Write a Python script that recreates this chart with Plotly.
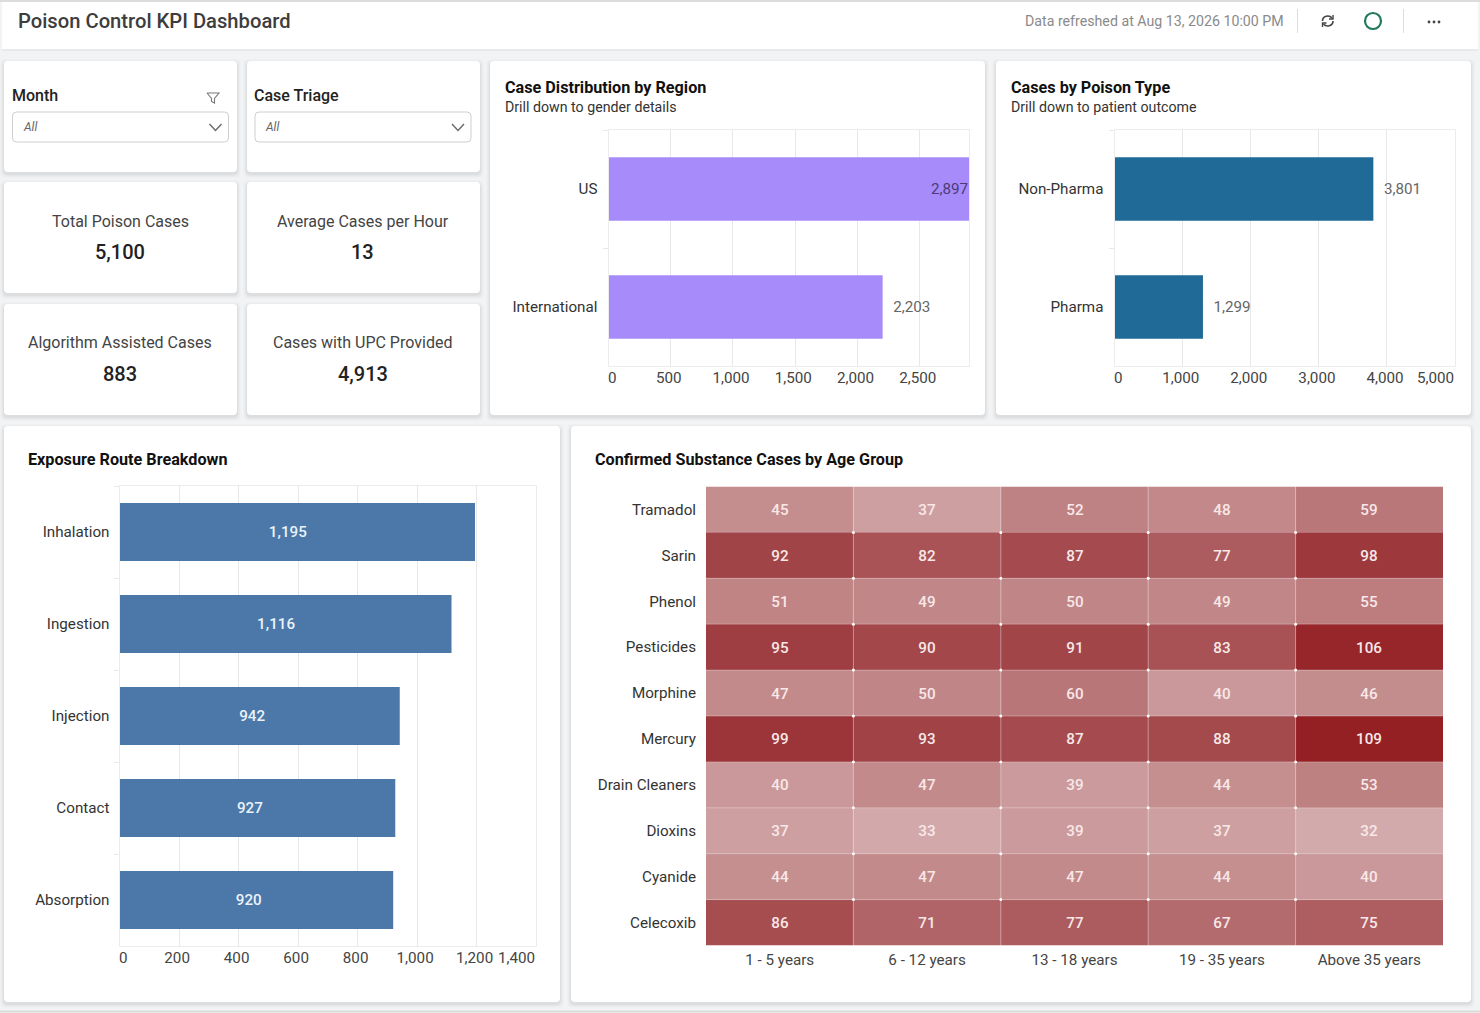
import plotly.graph_objects as go

W = 1480
H = 1013
FONT = "Roboto"

# chart data
region_names = ["US", "International"]
region_cases = [2897, 2203]
region_ticks = [0, 500, 1000, 1500, 2000, 2500]

poison_names = ["Non-Pharma", "Pharma"]
poison_cases = [3801, 1299]
poison_ticks = [0, 1000, 2000, 3000, 4000, 5000]

route_names = ["Inhalation", "Ingestion", "Injection", "Contact", "Absorption"]
route_cases = [1195, 1116, 942, 927, 920]
route_ticks = [0, 200, 400, 600, 800, 1000, 1200, 1400]

age_groups = ["1 - 5 years", "6 - 12 years", "13 - 18 years", "19 - 35 years", "Above 35 years"]
substances = ["Tramadol", "Sarin", "Phenol", "Pesticides", "Morphine",
              "Mercury", "Drain Cleaners", "Dioxins", "Cyanide", "Celecoxib"]
tramadol = [45, 37, 52, 48, 59]
sarin = [92, 82, 87, 77, 98]
phenol = [51, 49, 50, 49, 55]
pesticides = [95, 90, 91, 83, 106]
morphine = [47, 50, 60, 40, 46]
mercury = [99, 93, 87, 88, 109]
drain_cleaners = [40, 47, 39, 44, 53]
dioxins = [37, 33, 39, 37, 32]
cyanide = [44, 47, 47, 44, 40]
celecoxib = [86, 71, 77, 67, 75]

kpi_labels = ["Total Poison Cases", "Average Cases per Hour", "Algorithm Assisted Cases", "Cases with UPC Provided"]
kpi_values = ["5,100", "13", "883", "4,913"]


def px(x):
    return x / W


def py(y):
    return 1 - y / H


def rounded(x0, y0, x1, y1, r):
    return (f"M {px(x0 + r)} {py(y0)} L {px(x1 - r)} {py(y0)} Q {px(x1)} {py(y0)} {px(x1)} {py(y0 + r)} "
            f"L {px(x1)} {py(y1 - r)} Q {px(x1)} {py(y1)} {px(x1 - r)} {py(y1)} "
            f"L {px(x0 + r)} {py(y1)} Q {px(x0)} {py(y1)} {px(x0)} {py(y1 - r)} "
            f"L {px(x0)} {py(y0 + r)} Q {px(x0)} {py(y0)} {px(x0 + r)} {py(y0)} Z")


def poly(points):
    return "M " + " L ".join(f"{px(x)} {py(y)}" for x, y in points)


shapes = []
annotations = []


def add_path(path, fill="rgba(0,0,0,0)", line="rgba(0,0,0,0)", width=1):
    shapes.append(dict(type="path", path=path, xref="paper", yref="paper", layer="below",
                       fillcolor=fill, line=dict(color=line, width=width)))


def add_card(x0, y0, x1, y1):
    # soft shadow, a few faint layers under the white card
    for grow, alpha in [(4, 0.012), (3, 0.016), (2, 0.022), (1, 0.03)]:
        add_path(rounded(x0 - grow, y0 - grow + 2, x1 + grow, y1 + grow + 2, 5), fill=f"rgba(0,0,0,{alpha})")
    add_path(rounded(x0, y0, x1, y1, 4), fill="#ffffff")


def add_text(x, y, text, size=15, color="#333333", anchor="left", weight=400, style="normal"):
    # annotations carry about a pixel of padding on their sides
    nudge = {"left": -1, "right": 2, "center": 0}[anchor]
    annotations.append(dict(x=px(x + nudge), y=py(y), xref="paper", yref="paper", text=text, showarrow=False,
                            xanchor=anchor, yanchor="middle", borderpad=0,
                            font=dict(family=FONT, size=size, color=color, weight=weight, style=style)))


def add_dropdown(x0, x1):
    add_path(rounded(x0, 112, x1, 142, 4), fill="#ffffff", line="#cfcfcf", width=1)
    add_path(poly([(x1 - 19, 124), (x1 - 13, 130.5), (x1 - 7, 124)]), line="#666666", width=1.3)
    add_text(x0 + 10, 127, "All", size=12, color="#666666", style="italic")


# page frame and header
add_path(f"M 0 0 L 1 0 L 1 1 L 0 1 Z", fill="#f2f3f4")
add_path(f"M {px(2)} {py(2)} L {px(1478)} {py(2)} L {px(1478)} {py(49)} L {px(2)} {py(49)} Z", fill="#ffffff")
add_path(poly([(0, 1), (W, 1)]), line="#dcdcdc", width=2)
add_path(poly([(0, 1011.5), (W, 1011.5)]), line="#dcdcdc", width=2)
add_path(poly([(2, 50), (1478, 50)]), line="#e6e6e6", width=1.5)

add_text(18, 21.5, "Poison Control KPI Dashboard", size=20.2, color="#3d3d3d", weight=500)
add_text(1283, 21.5, "Data refreshed at Aug 13, 2026 10:00 PM", size=14.2, color="#8a8a8a", anchor="right")
add_path(poly([(1297.5, 9), (1297.5, 33)]), line="#dddddd", width=1)
add_path(poly([(1403.5, 9), (1403.5, 33)]), line="#dddddd", width=1)

# refresh icon
add_path(f"M {px(1322.5)} {py(21)} C {px(1322.5)} {py(16)} {px(1329)} {py(14.5)} {px(1332)} {py(18)}", line="#444444", width=1.6)
add_path(f"M {px(1333)} {py(21)} C {px(1333)} {py(26)} {px(1326.5)} {py(27.5)} {px(1323.5)} {py(24)}", line="#444444", width=1.6)
add_path(poly([(1333, 15), (1333, 19), (1329, 19)]), line="#444444", width=1.4)
add_path(poly([(1322.5, 27), (1322.5, 23), (1326.5, 23)]), line="#444444", width=1.4)

# status ring
shapes.append(dict(type="circle", xref="paper", yref="paper", x0=px(1365), x1=px(1381), y0=py(29), y1=py(13),
                   layer="below", fillcolor="rgba(0,0,0,0)", line=dict(color="#1f7a5c", width=2.2)))

# more menu dots
for dot_x in [1429, 1434, 1439]:
    shapes.append(dict(type="circle", xref="paper", yref="paper", x0=px(dot_x - 1.4), x1=px(dot_x + 1.4),
                       y0=py(23.4), y1=py(20.6), layer="below", fillcolor="#444444", line=dict(width=0)))

# cards
add_card(4, 61, 237, 172)
add_card(247, 61, 480, 172)
add_card(4, 182, 237, 293)
add_card(247, 182, 480, 293)
add_card(4, 304, 237, 415)
add_card(247, 304, 480, 415)
add_card(490, 61, 985, 415)
add_card(996, 61, 1471, 415)
add_card(4, 426, 560, 1002)
add_card(571, 426, 1471, 1002)

# filters
add_text(12, 95.5, "Month", size=16, color="#222222", weight=500)
add_text(254, 95.5, "Case Triage", size=16, color="#222222", weight=500)
add_dropdown(12.5, 228.5)
add_dropdown(255, 471)
add_path(poly([(207, 93), (219, 93), (214.5, 98.5), (214.5, 103), (211.5, 101.5), (211.5, 98.5), (207, 93)]),
         line="#777777", width=1.1)

# kpi tiles
kpi_spots = [(120, 221), (362.5, 221), (120, 342.5), (362.5, 342.5)]
for (kx, ky), label, value in zip(kpi_spots, kpi_labels, kpi_values):
    add_text(kx, ky, label, size=16, color="#444444", anchor="center")
    add_text(kx, ky + 31, value, size=20, color="#222222", anchor="center", weight=500)

# chart titles
add_text(505, 87, "Case Distribution by Region", size=16.2, color="#111111", weight=700)
add_text(505, 107, "Drill down to gender details", size=14.2, color="#333333")
add_text(1011, 87, "Cases by Poison Type", size=16.2, color="#111111", weight=700)
add_text(1011, 107, "Drill down to patient outcome", size=14.2, color="#333333")
add_text(28, 459.5, "Exposure Route Breakdown", size=16.2, color="#111111", weight=700)
add_text(594.5, 459.5, "Confirmed Substance Cases by Age Group", size=16.2, color="#111111", weight=700)

GRID = "#e8e8e8"
EDGE = "#ececec"
NB = "\u00a0"
tick_font = dict(family=FONT, size=15.2, color="#444444")
cat_font = dict(family=FONT, size=15.2, color="#333333")
value_font = dict(family=FONT, size=15.2, color="#666666")


def value_axis(left, right, rng, ticks, anchor, hide_last=False):
    # the source draws its tick labels a little left of each gridline, "0" a little right
    labels = [f"{t:,}{NB}" for t in ticks]
    labels[0] = NB + NB + "0"
    if hide_last:
        labels[-1] = ""
    return dict(domain=[px(left), px(right)], anchor=anchor, range=rng, tickmode="array", tickvals=ticks,
                ticktext=labels, showgrid=True, gridcolor=GRID, gridwidth=1, zeroline=False, showline=True,
                linecolor=EDGE, linewidth=1, mirror=True, ticks="", tickfont=tick_font, fixedrange=True,
                ticklabelstandoff=-2)


def cat_axis(top, bottom, anchor, standoff=7):
    return dict(domain=[py(bottom), py(top)], anchor=anchor, type="category", autorange="reversed",
                showgrid=False, zeroline=False, showline=True, linecolor=EDGE, linewidth=1, mirror=True,
                ticks="outside", tickson="boundaries", ticklen=5, tickcolor=GRID, tickwidth=1,
                tickfont=cat_font, fixedrange=True, ticklabelstandoff=standoff)


fig = go.Figure()

fig.add_trace(go.Bar(x=region_cases, y=region_names, orientation="h", xaxis="x", yaxis="y", width=0.54,
                     marker=dict(color="#a78bfa", line=dict(width=0)),
                     text=["", f"{NB}{NB}{region_cases[1]:,}"],
                     textposition="outside", constraintext="none", textangle=0, cliponaxis=False,
                     textfont=value_font))

fig.add_trace(go.Bar(x=poison_cases, y=poison_names, orientation="h", xaxis="x2", yaxis="y2", width=0.54,
                     marker=dict(color="#1f6a96", line=dict(width=0)),
                     text=[f"{NB}{NB}{v:,}" for v in poison_cases],
                     textposition="outside", constraintext="none", textangle=0, cliponaxis=False,
                     textfont=value_font))

fig.add_trace(go.Bar(x=route_cases, y=route_names, orientation="h", xaxis="x3", yaxis="y3", width=0.63,
                     marker=dict(color="#4b78a8", line=dict(width=0)),
                     text=[f"{v:,}{NB * 5}" if v > 1000 else f"{v:,}{NB * 4}" for v in route_cases],
                     textposition="inside", insidetextanchor="middle", constraintext="none", textangle=0,
                     textfont=dict(family=FONT, size=15.2, color="#eaf2fb", weight=500)))

heat_rows = [tramadol, sarin, phenol, pesticides, morphine, mercury, drain_cleaners, dioxins, cyanide, celecoxib]
fig.add_trace(go.Heatmap(z=heat_rows, x=age_groups, y=substances, xaxis="x4", yaxis="y4", showscale=False,
                         zmin=32, zmax=109,
                         colorscale=[[0, "#d3aaac"], [0.17, "#c48d8e"], [0.8, "#a04145"], [1, "#942024"]],
                         text=heat_rows, texttemplate="%{text}",
                         textfont=dict(family=FONT, size=15.2, color="#f8e8e8", weight=500)))

# faint seams between the cells, with small white dots where they cross
for col in range(len(age_groups) - 1):
    shapes.append(dict(type="line", xref="x4", yref="y4 domain", x0=col + 0.5, x1=col + 0.5, y0=0, y1=1,
                       line=dict(color="rgba(255,255,255,0.4)", width=1)))
for row in range(len(substances) - 1):
    shapes.append(dict(type="line", xref="x4 domain", yref="y4", x0=0, x1=1, y0=row + 0.5, y1=row + 0.5,
                       line=dict(color="rgba(255,255,255,0.3)", width=1)))
for col in range(len(age_groups) - 1):
    for row in range(len(substances) - 1):
        shapes.append(dict(type="circle", xref="x4", yref="y4", xsizemode="pixel", ysizemode="pixel",
                           xanchor=col + 0.5, yanchor=row + 0.5, x0=-1.5, x1=1.5, y0=-1.5, y1=1.5,
                           fillcolor="#ffffff", line=dict(width=0)))

# the US label hugs the end of its bar
annotations.append(dict(x=region_cases[0], y=region_names[0], xref="x", yref="y", text=f"{region_cases[0]:,}",
                        showarrow=False, xanchor="right", xshift=1, font=dict(family=FONT, size=15.2, color="#4b3b78")))

# last tick labels sit inside the chart edge, not on their gridline
annotations.append(dict(x=5000, y=0, xref="x2", yref="y2 domain", text="5,000", showarrow=False, xanchor="right",
                        yanchor="top", yshift=-1, xshift=1, font=tick_font))
annotations.append(dict(x=1400, y=0, xref="x3", yref="y3 domain", text="1,400", showarrow=False, xanchor="right",
                        yanchor="top", yshift=-1, xshift=1, font=tick_font))

fig.update_layout(
    width=W, height=H, margin=dict(l=0, r=0, t=0, b=0, autoexpand=False), autosize=False,
    paper_bgcolor="#ffffff", plot_bgcolor="rgba(0,0,0,0)", showlegend=False,
    font=dict(family=FONT), shapes=shapes, annotations=annotations,
    xaxis=value_axis(608.5, 969, [0, 2897], region_ticks, "y"),
    yaxis=cat_axis(130, 366, "x"),
    xaxis2=value_axis(1114.5, 1455, [0, 5000], poison_ticks, "y2", hide_last=True),
    yaxis2=cat_axis(130, 366, "x2"),
    xaxis3=value_axis(119.5, 536, [0, 1400], route_ticks, "y3", hide_last=True),
    yaxis3=cat_axis(486, 946, "x3", standoff=6),
    xaxis4=dict(domain=[px(706), px(1443)], anchor="y4", showgrid=False, zeroline=False, showline=False,
                ticks="", tickfont=tick_font, fixedrange=True, ticklabelstandoff=3),
    yaxis4=dict(domain=[py(945.5), py(486.5)], anchor="x4", autorange="reversed", showgrid=False, zeroline=False,
                showline=False, ticks="", tickfont=cat_font, fixedrange=True, ticklabelstandoff=9),
)

fig.write_html("out.html", config={"displayModeBar": False}, post_script="document.body.style.margin='0';")
